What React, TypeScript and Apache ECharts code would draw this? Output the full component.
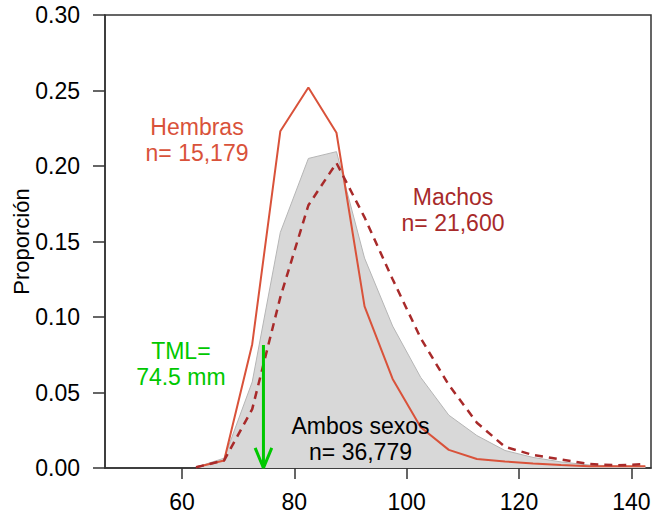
import { useEffect, useRef } from 'react';
import * as echarts from 'echarts';

// length classes (mm), mid points of 5 mm bins
const binMid = [62.5, 67.5, 72.5, 77.5, 82.5, 87.5, 92.5, 97.5, 102.5, 107.5, 112.5, 117.5, 122.5, 127.5, 132.5, 137.5, 142.5];

const hembras = [0.0005, 0.005, 0.082, 0.223, 0.252, 0.222, 0.107, 0.059, 0.027, 0.012, 0.006, 0.0043, 0.003, 0.002, 0.0012, 0.0012, 0.0012];
const machos = [0.0005, 0.005, 0.039, 0.113, 0.174, 0.202, 0.166, 0.125, 0.086, 0.055, 0.030, 0.014, 0.0086, 0.0056, 0.0026, 0.0018, 0.0026];
const ambos = [0.0005, 0.0065, 0.057, 0.156, 0.205, 0.2095, 0.139, 0.094, 0.06, 0.035, 0.0215, 0.0116, 0.007, 0.004, 0.002, 0.0013, 0.001];

const xTicks = [60, 80, 100, 120, 140];

// talla media de madurez
const tmlValue = 74.5;
const tmlTop = 0.0815;
const headHalfWidth = 1.48;
const headHeight = 0.0133;

const labelHembras = 'Hembras\nn= 15,179';
const labelMachos = 'Machos\nn= 21,600';
const labelAmbos = 'Ambos sexos\nn= 36,779';
const labelTml = 'TML=\n74.5 mm';

const posHembras = [62.67, 0.2175];
const posMachos = [108.25, 0.1709];
const posAmbos = [91.78, 0.0192];
const posTml = [59.8, 0.0692];

const FONT = '"Liberation Sans", Arial, sans-serif';
const COL_H = '#D9523A';
const COL_M = '#A82A2A';
const COL_G = '#00C800';

const pairs = (ys: number[]) => binMid.map((x, i) => [x, ys[i]]);

const textSeries = (name: string, pos: number[], text: string, color: string) => ({
  name,
  type: 'scatter',
  data: [pos],
  symbolSize: 0,
  silent: true,
  z: 10,
  itemStyle: { opacity: 1 },
  label: {
    show: true,
    position: 'inside',
    formatter: text,
    color,
    fontSize: 23,
    lineHeight: 26,
    fontFamily: FONT,
    align: 'center',
  },
});

const App = () => {
  const chartRef = useRef<HTMLDivElement>(null);

  useEffect(() => {
    if (!chartRef.current) return;
    const chart = echarts.init(chartRef.current, null, { renderer: 'svg' });

    chart.setOption({
      animation: false,
      backgroundColor: '#fff',
      grid: {
        left: 105,
        right: 2,
        top: 15,
        bottom: 47,
        outerBoundsMode: 'none',
        containLabel: false,
        show: true,
        borderColor: '#333',
        borderWidth: 1.5,
      },
      xAxis: {
        type: 'value',
        min: 46.29,
        max: 143.5,
        axisLine: { show: true, lineStyle: { color: '#333', width: 1.5 } },
        axisTick: { show: true, length: 11, customValues: xTicks, lineStyle: { color: '#333', width: 1.5 } },
        axisLabel: { customValues: xTicks, fontSize: 23, margin: 22, color: '#000', fontFamily: FONT },
        splitLine: { show: false },
      },
      yAxis: {
        type: 'value',
        min: 0,
        max: 0.3,
        interval: 0.05,
        name: 'Proporción',
        nameLocation: 'middle',
        nameRotate: 90,
        nameGap: 73,
        nameMoveOverlap: false,
        nameTextStyle: { fontSize: 22, color: '#000', fontFamily: FONT },
        axisLine: { show: true, lineStyle: { color: '#333', width: 1.5 } },
        axisTick: { show: true, length: 12, lineStyle: { color: '#333', width: 1.5 } },
        axisLabel: {
          fontSize: 23,
          margin: 25,
          color: '#000',
          fontFamily: FONT,
          formatter: (v: number) => v.toFixed(2),
        },
        splitLine: { show: false },
      },
      series: [
        {
          name: 'Ambos sexos',
          type: 'line',
          data: pairs(ambos),
          symbol: 'none',
          lineStyle: { color: '#B5B5B5', width: 1 },
          areaStyle: { color: '#D8D8D8', opacity: 1 },
          z: 1,
        },
        {
          name: 'Hembras',
          type: 'line',
          data: pairs(hembras),
          symbol: 'none',
          lineStyle: { color: COL_H, width: 2 },
          z: 3,
        },
        {
          name: 'Machos',
          type: 'line',
          data: pairs(machos),
          symbol: 'none',
          lineStyle: { color: COL_M, width: 2.5, type: [8, 6] },
          z: 4,
        },
        {
          name: 'TML',
          type: 'line',
          data: [[tmlValue, tmlTop], [tmlValue, 0]],
          symbol: 'none',
          lineStyle: { color: COL_G, width: 3 },
          z: 5,
        },
        {
          name: 'TML head',
          type: 'line',
          data: [
            [tmlValue - headHalfWidth, headHeight],
            [tmlValue, 0],
            [tmlValue + headHalfWidth, headHeight],
          ],
          symbol: 'none',
          lineStyle: { color: COL_G, width: 3 },
          z: 5,
        },
        textSeries('lblH', posHembras, labelHembras, COL_H),
        textSeries('lblM', posMachos, labelMachos, COL_M),
        textSeries('lblA', posAmbos, labelAmbos, '#000'),
        textSeries('lblT', posTml, labelTml, COL_G),
      ],
    });

    return () => {
      chart.dispose();
    };
  }, []);

  return (
    <div
      ref={chartRef}
      style={{ position: 'fixed', left: 0, top: 0, width: '653px', height: '515px', background: '#fff' }}
    />
  );
};

export default App;
